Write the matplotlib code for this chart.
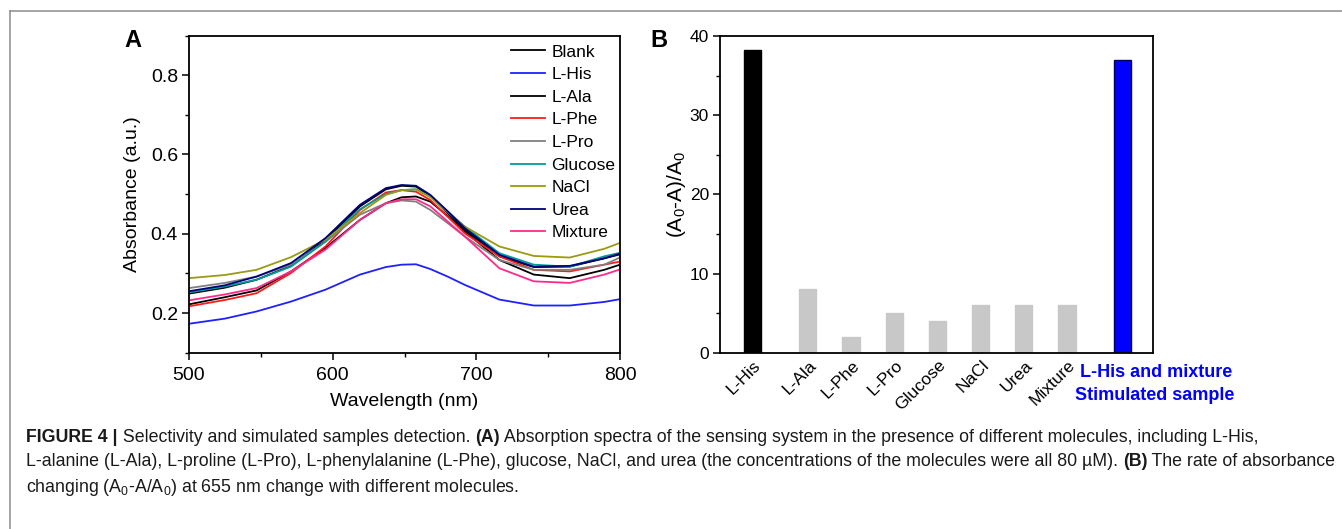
import matplotlib
matplotlib.use('Agg')
import matplotlib.pyplot as plt
from matplotlib.lines import Line2D
from matplotlib.font_manager import FontProperties
from matplotlib.ticker import MultipleLocator
import matplotlib.transforms as mtransforms

plt.rcParams['font.family'] = ['Liberation Sans', 'DejaVu Sans']
plt.rcParams['mathtext.fontset'] = 'custom'
plt.rcParams['mathtext.rm'] = 'Liberation Sans'
plt.rcParams['mathtext.it'] = 'Liberation Sans:italic'
plt.rcParams['mathtext.bf'] = 'Liberation Sans:bold'

# ---------------- data ----------------
wavelength = [500, 525, 547, 571, 595, 619, 637, 648, 658, 668, 680, 692, 716, 740, 765, 789, 800]
blank   = [.249, .264, .284, .319, .385, .469, .512, .521, .519, .495, .452, .410, .343, .316, .317, .338, .348]
l_his   = [.173, .186, .204, .229, .259, .297, .316, .322, .323, .311, .292, .271, .234, .219, .219, .228, .235]
l_ala   = [.222, .240, .257, .305, .364, .435, .477, .492, .494, .481, .445, .406, .334, .297, .288, .309, .322]
l_phe   = [.217, .233, .250, .301, .368, .460, .504, .510, .506, .485, .443, .401, .343, .309, .305, .322, .330]
l_pro   = [.263, .276, .292, .322, .380, .448, .477, .484, .481, .460, .427, .393, .334, .309, .309, .322, .340]
glucose = [.252, .267, .284, .317, .380, .462, .500, .510, .512, .494, .456, .418, .351, .322, .317, .343, .352]
nacl    = [.288, .296, .309, .341, .385, .452, .498, .510, .512, .492, .455, .418, .368, .344, .340, .362, .377]
urea    = [.255, .270, .292, .326, .389, .473, .515, .523, .521, .498, .457, .414, .347, .317, .319, .338, .350]
mixture = [.232, .247, .263, .305, .360, .435, .477, .487, .487, .469, .431, .393, .313, .280, .276, .297, .310]

series_names = ['Blank', 'L-His', 'L-Ala', 'L-Phe', 'L-Pro', 'Glucose', 'NaCl', 'Urea', 'Mixture']
series_values = [blank, l_his, l_ala, l_phe, l_pro, glucose, nacl, urea, mixture]
series_colors = ['#000000', '#2020ff', '#000000', '#ff1a1a', '#808080', '#009c9c', '#9a9a14', '#00007f', '#ff2a8c']

bar_categories = ['L-His', 'L-Ala', 'L-Phe', 'L-Pro', 'Glucose', 'NaCl', 'Urea', 'Mixture']
bar_values = [38.2, 8, 2, 5, 4, 6, 6, 6]
sample_label = ['L-His and mixture', 'Stimulated sample']
sample_value = 37

caption_line1 = [("FIGURE 4 |", 'bold'), (" Selectivity and simulated samples detection. ", 'normal'),
                 ("(A)", 'bold'),
                 (" Absorption spectra of the sensing system in the presence of different molecules, including L-His,", 'normal')]
caption_line2 = [("L-alanine (L-Ala), L-proline (L-Pro), L-phenylalanine (L-Phe), glucose, NaCl, and urea "
                  "(the concentrations of the molecules were all 80 \u00b5M). ", 'normal'),
                 ("(B)", 'bold'), (" The rate of absorbance", 'normal')]
caption_line3 = r"changing (A$_0$-A/A$_0$) at 655 nm change with different molecules."

# ---------------- figure ----------------
W, H = 1342, 529
fig = plt.figure(figsize=(W / 100, H / 100), dpi=100)

# outer frame (left and top edges)
fx, fy = 9.5 / W, 1 - 11 / H
fig.add_artist(Line2D([fx, fx], [0, fy], color='#8c8c8c', lw=1.1))
fig.add_artist(Line2D([fx, 1], [fy, fy], color='#8c8c8c', lw=1.1))

# ---------------- panel A ----------------
axA = fig.add_axes([189 / W, 1 - 352.7 / H, 431 / W, 317.2 / H])
for name, vals, col in zip(series_names, series_values, series_colors):
    axA.plot(wavelength, vals, color=col, lw=1.3, label=name)
axA.set_xlim(500, 800)
axA.set_ylim(0.1, 0.9)
axA.set_xticks([500, 600, 700, 800])
axA.xaxis.set_minor_locator(MultipleLocator(50))
axA.set_yticks([0.2, 0.4, 0.6, 0.8])
axA.yaxis.set_minor_locator(MultipleLocator(0.1))
axA.tick_params(which='major', direction='out', length=5, width=1.1, labelsize=14, pad=3)
axA.tick_params(axis='x', which='major', pad=5)
axA.tick_params(which='minor', direction='out', length=3, width=1.0)
for sp in axA.spines.values():
    sp.set_linewidth(1.3)
axA.set_xlabel('Wavelength (nm)', fontsize=14, labelpad=7)
axA.set_ylabel('Absorbance (a.u.)', fontsize=14, labelpad=7)
axA.legend(loc='upper left', bbox_to_anchor=((510.7 - 189) / 431, 0.972), frameon=False,
           fontsize=12.5, handlelength=2.0, handletextpad=0.35, labelspacing=0.43,
           borderpad=0, borderaxespad=0)
fig.text(133 / W, 1 - 40 / H, 'A', fontsize=17, fontweight='bold', ha='center', va='center')

# ---------------- panel B ----------------
axB = fig.add_axes([720 / W, 1 - 352.7 / H, 433.3 / W, 316.7 / H])
n = len(bar_categories)
positions = [0] + [1.28 + i for i in range(n - 1)]
sample_pos = positions[-1] + 1.28
bar_colors = ['#000000'] + ['#c8c8c8'] * (n - 1)
edge_colors = ['#000000'] + ['#c8c8c8'] * (n - 1)
axB.bar(positions, bar_values, width=0.4, color=bar_colors, edgecolor=edge_colors, linewidth=1.0)
axB.bar([sample_pos], [sample_value], width=0.4, color='#0000ff', edgecolor='#00005a', linewidth=1.0)
axB.set_xlim(-0.752, 9.28)
axB.set_ylim(0, 40)
axB.yaxis.set_major_locator(MultipleLocator(10))
axB.yaxis.set_minor_locator(MultipleLocator(5))
axB.tick_params(axis='y', which='major', direction='out', length=5, width=1.1, labelsize=12.5, pad=3)
axB.tick_params(axis='y', which='minor', direction='out', length=3, width=1.0)
axB.set_xticks(positions)
axB.set_xticklabels(bar_categories, rotation=45, ha='right', va='center', rotation_mode='anchor', fontsize=12.5)
axB.tick_params(axis='x', length=0, pad=0)
offset = mtransforms.ScaledTranslation(0.06, -0.10, fig.dpi_scale_trans)
for lab in axB.get_xticklabels():
    lab.set_transform(lab.get_transform() + offset)
for sp in axB.spines.values():
    sp.set_linewidth(1.3)
axB.set_ylabel(r'(A$_0$-A)/A$_0$', fontsize=15, labelpad=1)
fig.text(1156 / W, 1 - 372.7 / H, sample_label[0], color='#0000ff', fontsize=13, fontweight='bold',
         ha='center', va='center')
fig.text(1155 / W, 1 - 395 / H, sample_label[1], color='#0000ff', fontsize=13, fontweight='bold',
         ha='center', va='center')
fig.text(659 / W, 1 - 40 / H, 'B', fontsize=17, fontweight='bold', ha='center', va='center')

# ---------------- caption ----------------
renderer = fig.canvas.get_renderer()


def seg_width(s, weight, size):
    fp = FontProperties(family='Liberation Sans', weight=weight, size=size)
    w1, _, _ = renderer.get_text_width_height_descent('|' + s + '|', fp, ismath=False)
    w0, _, _ = renderer.get_text_width_height_descent('||', fp, ismath=False)
    return w1 - w0


ref_size = 10
total = sum(seg_width(s, w, ref_size) for s, w in caption_line1)
cap_size = ref_size * 1236 / total

x0 = 26
line_y = [437, 462, 487]
for segs, yy in zip([caption_line1, caption_line2], line_y[:2]):
    x = x0
    for s, w in segs:
        fig.text(x / W, 1 - yy / H, s, fontsize=cap_size, fontweight=w, color='#1a1a1a',
                 ha='left', va='center')
        x += seg_width(s, w, cap_size)
fig.text(x0 / W, 1 - line_y[2] / H, caption_line3, fontsize=cap_size, color='#1a1a1a',
         ha='left', va='center')

fig.savefig('out.png', dpi=100)
